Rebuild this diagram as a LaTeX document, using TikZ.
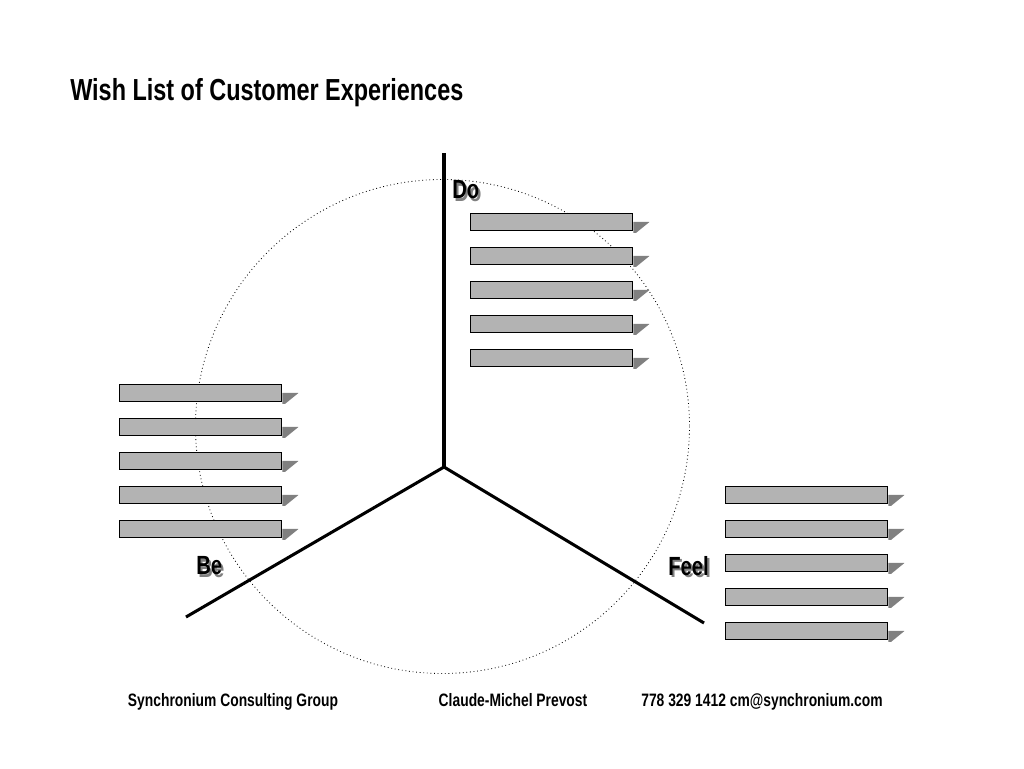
\documentclass[tikz,border=0pt]{standalone}
\usepackage{fontspec}
\setmainfont[FakeStretch=0.77]{Liberation Sans}
\usepackage{tikz}
\usetikzlibrary{positioning,calc}

\definecolor{barfill}{RGB}{179,179,179}
\definecolor{barshade}{RGB}{128,128,128}
\newcommand{\shadowed}[1]{\makebox[0pt][l]{\hspace{1.6pt}\raisebox{-1.6pt}{\textcolor{barshade}{#1}}}#1}

\begin{document}
\begin{tikzpicture}[
            x=0.0254cm, y=-0.0254cm,
            axis/.style={line width=2.2pt},
            ring/.style={dotted, line width=0.6pt},
            bar/.style={draw, line width=0.7pt, fill=barfill, minimum width=162*0.0254cm, minimum height=17*0.0254cm, inner sep=0pt, anchor=north west},
            head/.style={font=\bfseries\fontsize{19}{21}\selectfont, inner sep=0pt, anchor=west},
            foot/.style={font=\bfseries\fontsize{13}{15}\selectfont, inner sep=0pt, anchor=base},
        ]
            \useasboundingbox (0,0) rectangle (1024,768);

            % title
            \node[anchor=base west, inner sep=0pt, font=\bfseries\fontsize{22}{26}\selectfont] (title) at (70,100) {Wish List of Customer Experiences};

            % axes and circle
            \coordinate (o) at (444,467);
            \coordinate (top) at (444,153);
            \coordinate (left) at (186,617);
            \coordinate (right) at (704,623);
            \draw[ring] (442.5,426.5) circle [radius=247];
            \draw[axis] (o) -- (top);
            \draw[axis] (o) -- (left);
            \draw[axis] (o) -- (right);

            % labels
            \node[head] (do) at (452,191) {\shadowed{Do}};
            \node[head] (be) at (196,567) {\shadowed{Be}};
            \node[head] (feel) at (668,567) {\shadowed{Feel}};

            % Do bars
            \node[bar] (d1) at (470,213) {};
            \node[bar] (d2) at (470,247) {};
            \node[bar] (d3) at (470,281) {};
            \node[bar] (d4) at (470,315) {};
            \node[bar] (d5) at (470,349) {};

            % Be bars
            \node[bar] (b1) at (119,384) {};
            \node[bar] (b2) at (119,418) {};
            \node[bar] (b3) at (119,452) {};
            \node[bar] (b4) at (119,486) {};
            \node[bar] (b5) at (119,520) {};

            % Feel bars
            \node[bar] (f1) at (725,486) {};
            \node[bar] (f2) at (725,520) {};
            \node[bar] (f3) at (725,554) {};
            \node[bar] (f4) at (725,588) {};
            \node[bar] (f5) at (725,622) {};

            % shadows at the right ends
            \foreach \b in {d1,d2,d3,d4,d5,b1,b2,b3,b4,b5,f1,f2,f3,f4,f5}
                \fill[barshade] ($(\b.east)+(0.5,0)$) -- ++(16,0) -- ($(\b.south east)+(3,2)$) -- ($(\b.south east)+(0.5,2)$) -- cycle;

            % footer
            \node[foot] (group) at (233,706) {Synchronium Consulting Group};
            \node[foot] (name) at (513,706) {Claude-Michel Prevost};
            \node[foot] (contact) at (762,706) {778 329 1412 cm@synchronium.com};
        \end{tikzpicture}
\end{document}
